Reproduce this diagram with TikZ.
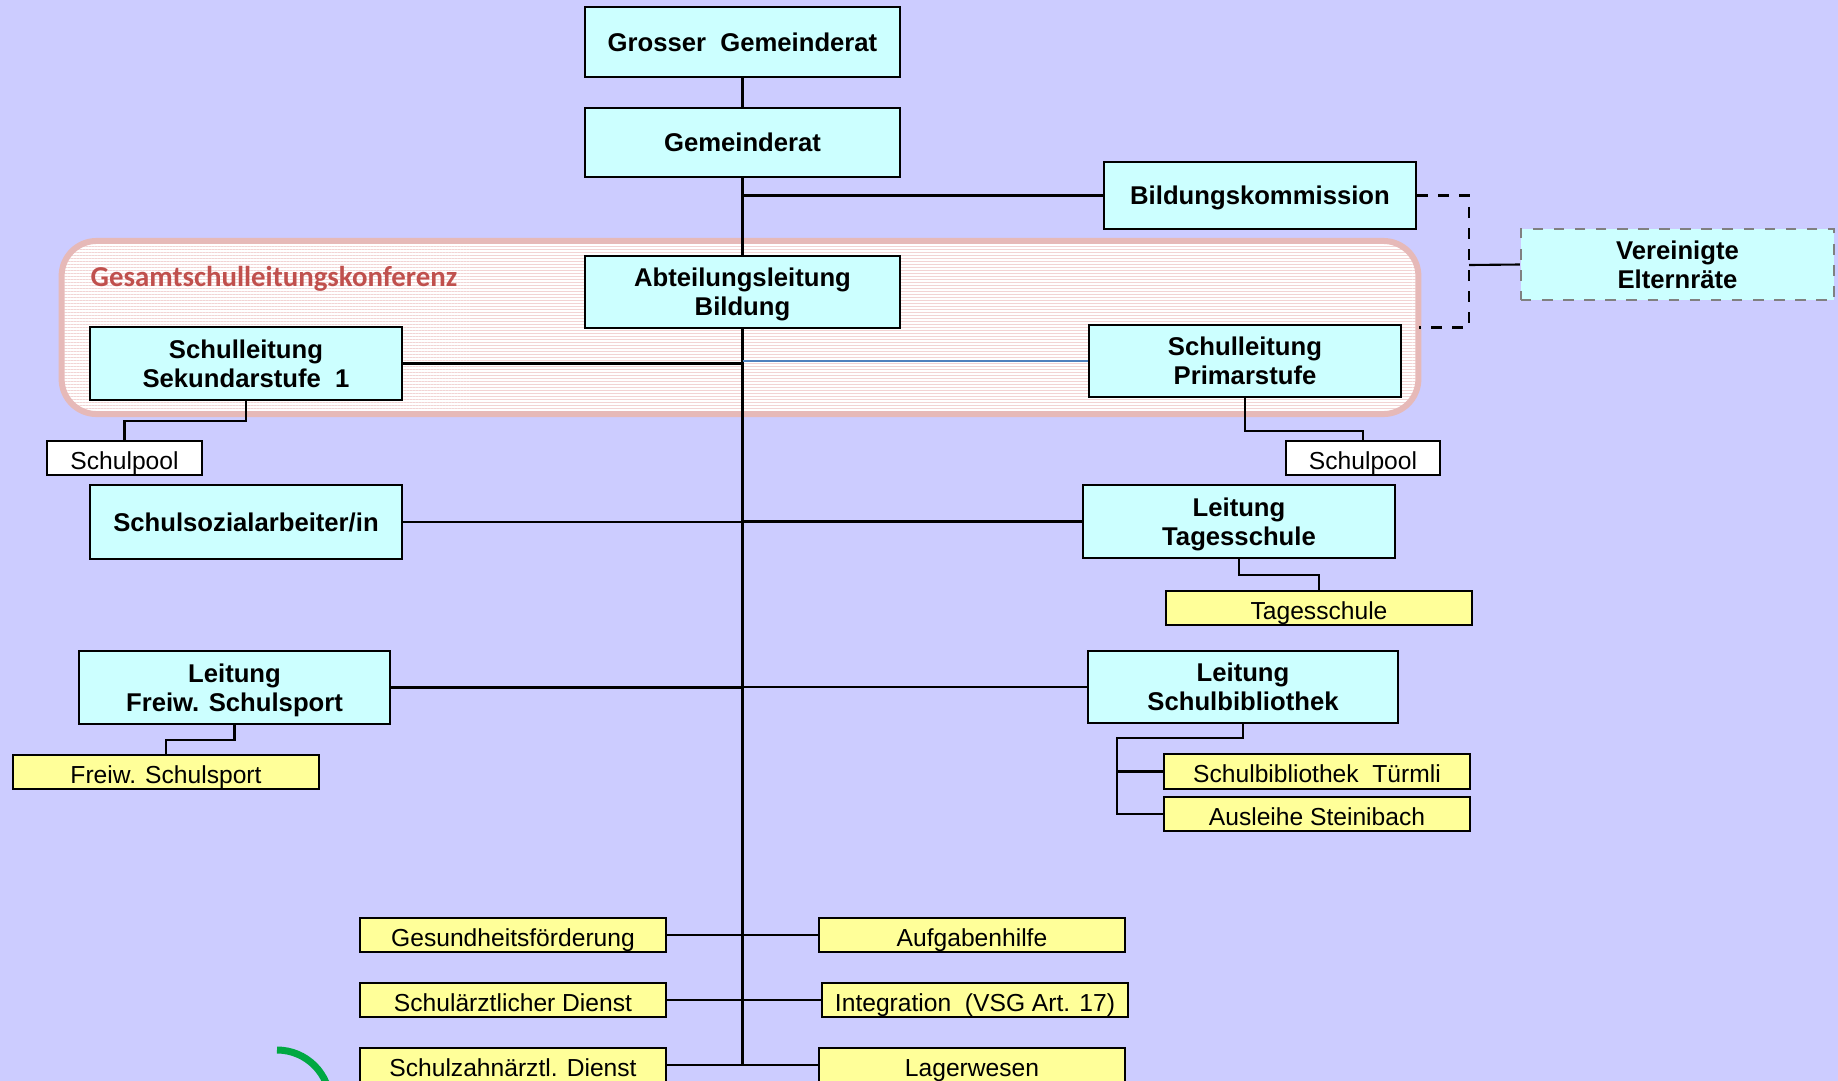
\documentclass[tikz,border=0pt]{standalone}
\usepackage{fontspec}
\setmainfont{Liberation Sans}
\newfontfamily\calibrifont{Carlito}
\usetikzlibrary{patterns.meta}

\definecolor{hintergrund}{HTML}{CCCCFF}
\definecolor{tuerkis}{HTML}{CCFFFF}
\definecolor{hellgelb}{HTML}{FFFF99}
\definecolor{rahmenrosa}{HTML}{E6B9B8}
\definecolor{streifen}{HTML}{F2D4D4}
\definecolor{titelrot}{HTML}{C0504D}
\definecolor{linienblau}{HTML}{4F81BD}
\definecolor{logogruen}{HTML}{00A843}

\begin{document}
\begin{tikzpicture}[
    x=0.01cm, y=-0.01cm,
    leitung/.style={
        rectangle,
        draw=black,
        line width=0.6pt,
        fill=tuerkis,
        minimum width=3.12cm,
        minimum height=0.72cm,
        inner sep=0pt,
        text depth=0pt,
        align=center,
        font=\fontsize{7.3}{8.3}\selectfont\bfseries
    },
    stelle/.style={
        rectangle,
        draw=black,
        line width=0.6pt,
        fill=hellgelb,
        minimum width=3.06cm,
        minimum height=0.34cm,
        inner sep=0pt,
        text height=6.4pt,
        text depth=0pt,
        font=\fontsize{7}{8}\selectfont
    },
    pool/.style={stelle, fill=white, minimum width=1.55cm},
    konferenz/.style={
        rectangle,
        draw=rahmenrosa,
        line width=0.06cm,
        rounded corners=0.35cm,
        preaction={fill=white},
        pattern={Lines[angle=0, distance=0.03cm, line width=0.013cm]},
        pattern color=streifen,
        minimum width=13.56cm,
        minimum height=1.73cm
    },
    linie/.style={line width=0.6pt}
]

\fill[hintergrund] (0,0) rectangle (1838,1081);
\useasboundingbox (0,0) rectangle (1838,1081);

% Gesamtschulleitungskonferenz
\node[konferenz] (konferenz) at (740,327.5) {};
\node[anchor=west, inner sep=0pt, text=titelrot, font=\calibrifont\fontsize{8.2}{9}\selectfont\bfseries] (konferenztitel) at (90,279) {Gesamtschulleitungskonferenz};

% Leitung
\node[leitung, minimum width=3.15cm, minimum height=0.70cm] (grosser) at (742.5,42) {Grosser\ \ Gemeinderat};
\node[leitung, minimum width=3.15cm, minimum height=0.69cm] (gemeinderat) at (742.5,142.5) {Gemeinderat};
\node[leitung, minimum width=3.15cm] (abteilung) at (742.5,292) {Abteilungsleitung\\Bildung};
\node[leitung, minimum height=0.67cm] (bildung) at (1260,195.5) {Bildungskommission};
\node[leitung, draw=gray, dashed, minimum width=3.13cm, minimum height=0.71cm] (vereinigte) at (1677.5,264.5) {Vereinigte\\Elternräte};

\node[leitung, minimum height=0.73cm] (sek) at (246,363.5) {Schulleitung\\Sekundarstufe\ \ 1};
\node[leitung] (primar) at (1245,361) {Schulleitung\\Primarstufe};
\node[pool] (poolsek) at (124.5,458) {Schulpool};
\node[pool, minimum width=1.54cm] (poolprimar) at (1363,458) {Schulpool};

\node[leitung, minimum height=0.74cm] (sozial) at (246,522) {Schulsozialarbeiter/in};
\node[leitung, minimum height=0.73cm] (tagesl) at (1239,521.5) {Leitung\\Tagesschule};
\node[stelle] (tagesschule) at (1319,608) {Tagesschule};

\node[leitung, minimum width=3.11cm, minimum height=0.73cm] (sportl) at (234.5,687.5) {Leitung\\Freiw. Schulsport};
\node[stelle] (sport) at (166,772) {Freiw. Schulsport};
\node[leitung, minimum width=3.10cm] (bibl) at (1243,687) {Leitung\\Schulbibliothek};
\node[stelle, minimum height=0.35cm] (tuermli) at (1317,771.5) {Schulbibliothek\ \ Türmli};
\node[stelle] (steinibach) at (1317,814) {Ausleihe Steinibach};

% Dienste
\node[stelle] (gesundheit) at (513,935) {Gesundheitsförderung};
\node[stelle] (aufgaben) at (972,935) {Aufgabenhilfe};
\node[stelle] (schularzt) at (513,1000) {Schulärztlicher Dienst};
\node[stelle] (integration) at (975,1000) {Integration\ \ (VSG Art. 17)};
\node[stelle] (zahnarzt) at (513,1065) {Schulzahnärztl. Dienst};
\node[stelle] (lager) at (972,1065) {Lagerwesen};

\coordinate (knick) at (1469,265);
\coordinate (bibknick) at (1117,738);

% Verbindungen
\draw[linie] (grosser) -- (gemeinderat);
\draw[linie] (gemeinderat) -- (abteilung);
\draw[linie] (bildung.west -| gemeinderat.south) -- (bildung.west);
\draw[line width=0.9pt] (abteilung.south) -- (abteilung.south |- zahnarzt);
\draw[linie, dashed] (bildung.east) -| (knick) |- (konferenz.east);
\draw[linie] (knick) -- (vereinigte.west);

\draw[linie] (sek.east) -- (sek.east -| abteilung.south);
\draw[linienblau, line width=0.5pt] (primar.west -| abteilung.south) -- (primar.west);
\draw[linie] (sek.south) -- ++(0,20) -| (poolsek.north);
\draw[linie] (primar.south) -- ++(0,33) -| (poolprimar.north);

\draw[linie] (sozial.east) -- (sozial.east -| abteilung.south);
\draw[linie] (tagesl.west) -- (tagesl.west -| abteilung.south);
\draw[linie] (tagesl.south) -- ++(0,16) -| (tagesschule.north);

\draw[linie] (sportl.east) -- (sportl.east -| abteilung.south);
\draw[linie] (bibl.west) -- (bibl.west -| abteilung.south);
\draw[linie] (sportl.south) -- ++(0,15) -| (sport.north);
\draw[linie] (bibl.south) |- (bibknick) |- (steinibach.west);
\draw[linie] (bibknick |- tuermli.west) -- (tuermli.west);

\draw[linie] (gesundheit) -- (aufgaben);
\draw[linie] (schularzt) -- (integration);
\draw[linie] (zahnarzt) -- (lager);

% Logo-Bogen
\draw[logogruen, line width=0.07cm] (277,1050) arc[start angle=90, end angle=0, radius=0.53cm];

\end{tikzpicture}
\end{document}
